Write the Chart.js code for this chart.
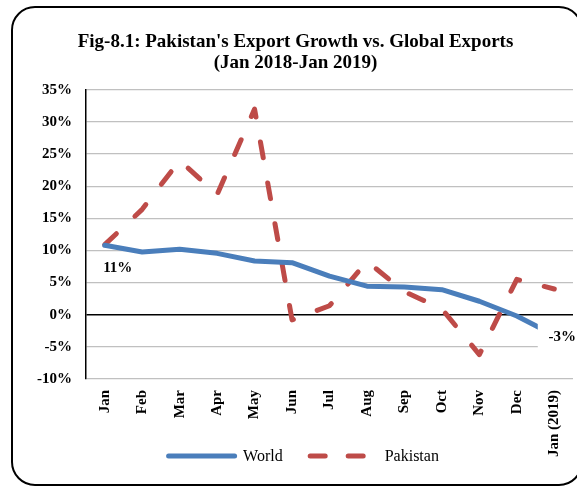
<!DOCTYPE html>
<html><head><meta charset="utf-8">
<script src="https://cdn.jsdelivr.net/npm/chart.js@4.4.0/dist/chart.umd.min.js"></script>
<style>
html,body{margin:0;padding:0;background:#fff;overflow:hidden;}
#wrap{position:relative;width:577px;height:487px;overflow:hidden;}
#frame{position:absolute;left:11px;top:6px;width:568px;height:476px;border:2px solid #000;border-radius:24px;pointer-events:none;}
canvas{position:absolute;left:0;top:0;}
</style></head><body>
<div id="wrap"><canvas id="c" width="577" height="487"></canvas><div id="frame"></div></div>
<script>
const categories = ['Jan','Feb','Mar','Apr','May','Jun','Jul','Aug','Sep','Oct','Nov','Dec','Jan (2019)'];
const worldValues = [10.8, 9.75, 10.2, 9.55, 8.35, 8.1, 6.0, 4.45, 4.3, 3.9, 2.1, -0.2, -3.2];
const pakistanValues = [10.9, 16.4, 24.0, 18.7, 32.0, -0.8, 1.4, 8.3, 3.6, 0.9, -6.2, 5.5, 4.0];
const yTickValues = [-10, -5, 0, 5, 10, 15, 20, 25, 30, 35];
const titleLines = ["Fig-8.1: Pakistan's Export Growth vs. Global Exports", "(Jan 2018-Jan 2019)"];
const seriesNames = ['World', 'Pakistan'];

const SERIF = "'Liberation Serif','Times New Roman',serif";
const BLUE = '#4A7EBB', RED = '#BE4B48';
const PLOT_DASH = [16, 25.5], LEGEND_DASH = [15, 23];
const fmt = v => Math.round(v) + '%';

const labelPlugin = {
  id: 'vlabels',
  afterDatasetsDraw(chart) {
    const meta = chart.getDatasetMeta(0);
    const ctx = chart.ctx;
    const n = worldValues.length;
    ctx.save();
    ctx.font = 'bold 15px ' + SERIF;
    ctx.textBaseline = 'middle';
    ctx.textAlign = 'center';
    const first = meta.data[0];
    ctx.fillStyle = '#000';
    ctx.fillText(fmt(worldValues[0]), first.x + 13, first.y + 23);
    const last = meta.data[n - 1];
    ctx.fillStyle = '#fff';
    ctx.fillRect(last.x - 16.5, last.y - 17, 45, 32);
    ctx.fillStyle = '#000';
    ctx.fillText(fmt(worldValues[n - 1]), last.x + 8, last.y + 1.5);
    ctx.restore();
  }
};

const legendPlugin = {
  id: 'customLegend',
  afterDraw(chart) {
    const ctx = chart.ctx;
    ctx.save();
    ctx.font = '16px ' + SERIF;
    const lineLen = 71, gapText = 6, gapItem = 25;
    const ds = chart.data.datasets;
    const widths = ds.map(d => ctx.measureText(d.label).width);
    let total = 0;
    ds.forEach((d, i) => { total += lineLen + gapText + widths[i] + (i < ds.length - 1 ? gapItem : 0); });
    let x = 302.5 - total / 2;
    const y = 456;
    ds.forEach((d, i) => {
      ctx.beginPath();
      ctx.lineWidth = d.borderWidth;
      ctx.strokeStyle = d.borderColor;
      ctx.lineCap = 'round';
      ctx.setLineDash(d.borderDash ? LEGEND_DASH : []);
      ctx.moveTo(x + 2.5, y);
      ctx.lineTo(x + lineLen - 2.5, y);
      ctx.stroke();
      ctx.setLineDash([]);
      ctx.fillStyle = '#000';
      ctx.textBaseline = 'middle';
      ctx.textAlign = 'left';
      ctx.fillText(d.label, x + lineLen + gapText, y + 1);
      x += lineLen + gapText + widths[i] + gapItem;
    });
    ctx.restore();
  }
};

new Chart(document.getElementById('c'), {
  type: 'line',
  data: {
    labels: categories,
    datasets: [
      { label: seriesNames[0], data: worldValues, borderColor: BLUE, backgroundColor: BLUE, borderWidth: 5,
        pointRadius: 0, tension: 0, borderCapStyle: 'round', borderJoinStyle: 'round' },
      { label: seriesNames[1], data: pakistanValues, borderColor: RED, backgroundColor: RED, borderWidth: 5,
        borderDash: PLOT_DASH, borderCapStyle: 'round', borderJoinStyle: 'round', pointRadius: 0, tension: 0 }
    ]
  },
  options: {
    responsive: false,
    animation: false,
    layout: { padding: { left: 18, right: 4, top: 0, bottom: 0 } },
    plugins: {
      legend: { display: false },
      tooltip: { enabled: false },
      title: {
        display: true, text: titleLines, color: '#000',
        font: { family: SERIF, size: 19, weight: 'bold', lineHeight: 1.1 },
        padding: { top: 32, bottom: 16 }
      }
    },
    scales: {
      x: {
        offset: true,
        grid: { display: false, drawTicks: false, offset: true },
        border: { display: false },
        ticks: { maxRotation: 90, minRotation: 90, autoSkip: false, padding: 11, color: '#000',
          font: { family: SERIF, size: 15, weight: 'bold' } },
        afterFit(s) { s.height = 108; s.paddingLeft = 0; s.paddingRight = 0; }
      },
      y: {
        min: -10, max: 35,
        afterBuildTicks(s) { s.ticks = yTickValues.map(v => ({ value: v })); },
        grid: { drawTicks: false,
          color: c => (c.tick && c.tick.value === 0) ? '#000' : '#c0c0c0',
          lineWidth: c => (c.tick && c.tick.value === 0) ? 1.5 : 1.3 },
        border: { color: '#000', width: 1.5 },
        ticks: { padding: 14, color: '#000', font: { family: SERIF, size: 15, weight: 'bold' },
          callback: v => v + '%' },
        afterFit(s) { s.width = 68; }
      }
    }
  },
  plugins: [labelPlugin, legendPlugin]
});
</script>
</body></html>
